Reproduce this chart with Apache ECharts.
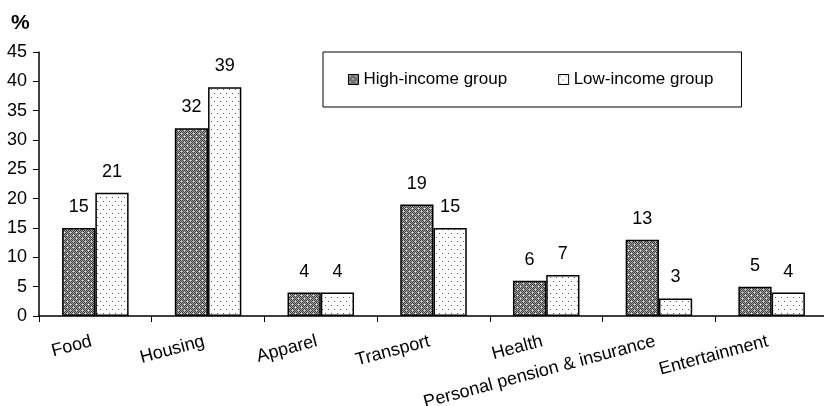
<!DOCTYPE html>
<html>
<head>
<meta charset="utf-8">
<script src="https://cdn.jsdelivr.net/npm/echarts@6/dist/echarts.min.js"></script>
<style>
html,body{margin:0;padding:0;background:#fff;}
#chart{width:824px;height:406px;}
</style>
</head>
<body>
<div id="chart"></div>
<script>
const categories = ['Food', 'Housing', 'Apparel', 'Transport', 'Health', 'Personal pension & insurance', 'Entertainment'];
const highIncome = [15, 32, 4, 19, 6, 13, 5];
const lowIncome = [21, 39, 4, 15, 7, 3, 4];
const seriesNames = ['High-income group', 'Low-income group'];
const yTicks = { min: 0, max: 45, interval: 5 };

function makeDark() {
  const c = document.createElement('canvas');
  c.width = 6; c.height = 6;
  const ctx = c.getContext('2d');
  for (let y = 0; y < 6; y++) {
    for (let x = 0; x < 6; x++) {
      ctx.fillStyle = ((x + y) % 2 === 0) ? '#383838' : '#aaaaaa';
      ctx.fillRect(x, y, 1, 1);
    }
  }
  ctx.fillStyle = '#ffffff';
  ctx.fillRect(1, 1, 1, 1);
  ctx.fillRect(4, 4, 1, 1);
  return c;
}
function makeLight() {
  const c = document.createElement('canvas');
  c.width = 6; c.height = 8;
  const ctx = c.getContext('2d');
  ctx.fillStyle = '#ffffff';
  ctx.fillRect(0, 0, 6, 8);
  ctx.fillStyle = '#555555';
  ctx.fillRect(1, 1, 1, 1);
  ctx.fillRect(4, 5, 1, 1);
  return c;
}
const darkFill = { image: makeDark(), repeat: 'repeat' };
const lightFill = { image: makeLight(), repeat: 'repeat' };

const font = 'Liberation Sans, Arial, Helvetica, sans-serif';
const chart = echarts.init(document.getElementById('chart'), null, { renderer: 'canvas' });
chart.setOption({
  animation: false,
  backgroundColor: '#ffffff',
  textStyle: { fontFamily: font, color: '#000' },
  title: {
    text: '%', left: 6, top: 8,
    textStyle: { fontFamily: font, fontSize: 21, fontWeight: 'bold', color: '#000' }
  },
  legend: {
    data: seriesNames,
    left: 323, top: 52,
    orient: 'horizontal',
    itemWidth: 10, itemHeight: 10, itemGap: 51,
    padding: [19, 28, 19, 25],
    borderColor: '#000', borderWidth: 1, borderRadius: 0,
    textStyle: { fontFamily: font, fontSize: 17, color: '#000' },
    icon: 'rect',
    itemStyle: { borderColor: '#000', borderWidth: 1 }
  },
  grid: { left: 39, right: -4, top: 52, bottom: 90, containLabel: false, outerBoundsMode: 'none' },
  xAxis: {
    type: 'category',
    data: categories,
    axisLine: { lineStyle: { color: '#000', width: 1.5 } },
    axisTick: { show: true, alignWithLabel: false, length: 6, lineStyle: { color: '#000' } },
    axisLabel: {
      interval: 0, rotate: 15, margin: 24,
      padding: [0, 4, 0, 0],
      fontFamily: font, fontSize: 18, color: '#000'
    },
    splitLine: { show: false }
  },
  yAxis: {
    type: 'value',
    min: yTicks.min, max: yTicks.max, interval: yTicks.interval,
    axisLine: { show: true, lineStyle: { color: '#000', width: 1.5 } },
    axisTick: { show: true, length: 6, lineStyle: { color: '#000' } },
    axisLabel: { fontFamily: font, fontSize: 18, color: '#000', margin: 12 },
    splitLine: { show: false }
  },
  series: [
    {
      name: seriesNames[0], type: 'bar', data: highIncome,
      barGap: '0%', barCategoryGap: '41%',
      itemStyle: { color: darkFill, borderColor: '#000', borderWidth: 1.5 },
      label: { show: true, position: 'top', distance: 12, fontFamily: font, fontSize: 18, color: '#000' }
    },
    {
      name: seriesNames[1], type: 'bar', data: lowIncome,
      barGap: '0%', barCategoryGap: '41%',
      itemStyle: { color: lightFill, borderColor: '#000', borderWidth: 1.5 },
      label: { show: true, position: 'top', distance: 12, fontFamily: font, fontSize: 18, color: '#000' }
    }
  ]
});
</script>
</body>
</html>
